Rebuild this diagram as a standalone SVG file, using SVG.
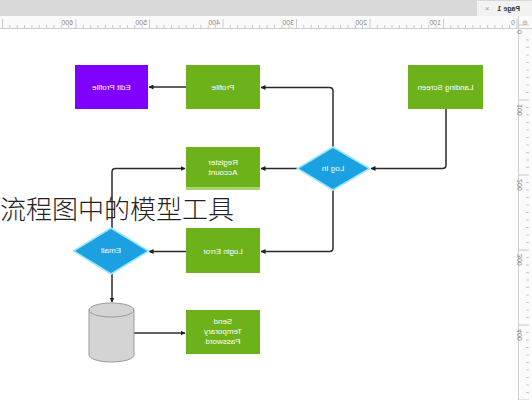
<svg xmlns="http://www.w3.org/2000/svg" width="532" height="400" viewBox="0 0 532 400">
<defs>
<style>
.lbl{font-family:"Liberation Sans",Arial,sans-serif;font-size:8px;fill:#ffffff;text-anchor:middle}
.rul{font-family:"Liberation Sans",Arial,sans-serif;font-size:7px;fill:#888;text-anchor:end}
.green{fill:#6db21a}
.edge{fill:none;stroke:#2b2b2b;stroke-width:1.5;marker-end:url(#ah)}
.tick{stroke:#bdbdbd;stroke-width:0.8}
</style>
<marker id="ah" viewBox="0 0 10 10" refX="9" refY="5" markerWidth="5" markerHeight="5" orient="auto" markerUnits="userSpaceOnUse">
<path d="M0,0 L10,5 L0,10 z" fill="#1f1f1f"/>
</marker>
</defs>
<rect width="532" height="400" fill="#ffffff"/>
<!-- top chrome -->
<g id="chrome">
<rect x="0" y="0" width="532" height="16" fill="#d9d9d9"/>
<rect x="477" y="1" width="55" height="15" fill="#f2f2f2"/>
<text transform="translate(520,11) scale(-1,1)" style="font-family:'Liberation Sans',Arial,sans-serif;font-size:7px;font-weight:bold;fill:#333">Page 1</text>
<text x="487" y="11" style="font-family:'Liberation Sans',Arial,sans-serif;font-size:8px;fill:#999" text-anchor="middle">×</text>
<rect x="0" y="16" width="532" height="13" fill="#fbfbfb"/>
<line x1="0" y1="28.5" x2="532" y2="28.5" stroke="#cfcfcf"/>
<rect x="518" y="29" width="14" height="371" fill="#fbfbfb"/>
<line x1="518.5" y1="29" x2="518.5" y2="400" stroke="#cfcfcf"/>
<line x1="518.5" y1="16" x2="518.5" y2="29" stroke="#cfcfcf"/>
<text x="525" y="25" style="font-family:'Liberation Sans',Arial,sans-serif;font-size:7px;fill:#aaa" text-anchor="middle">⊕</text>
<g class="tick">
<path d="M517,19V28 M443.5,19V28 M370,19V28 M296.5,19V28 M223,19V28 M149.5,19V28 M76,19V28 M2.5,19V28"/>
<path d="M509.6,25V28 M502.3,25V28 M494.9,25V28 M487.6,25V28 M480.2,25V28 M472.9,25V28 M465.5,25V28 M458.2,25V28 M450.8,25V28
M436.1,25V28 M428.8,25V28 M421.4,25V28 M414.1,25V28 M406.7,25V28 M399.4,25V28 M392,25V28 M384.7,25V28 M377.3,25V28
M362.6,25V28 M355.3,25V28 M347.9,25V28 M340.6,25V28 M333.2,25V28 M325.9,25V28 M318.5,25V28 M311.2,25V28 M303.8,25V28
M289.1,25V28 M281.8,25V28 M274.4,25V28 M267.1,25V28 M259.7,25V28 M252.4,25V28 M245,25V28 M237.7,25V28 M230.3,25V28
M215.6,25V28 M208.3,25V28 M200.9,25V28 M193.6,25V28 M186.2,25V28 M178.9,25V28 M171.5,25V28 M164.2,25V28 M156.8,25V28
M142.1,25V28 M134.8,25V28 M127.4,25V28 M120.1,25V28 M112.7,25V28 M105.4,25V28 M98,25V28 M90.7,25V28 M83.3,25V28
M68.6,25V28 M61.3,25V28 M53.9,25V28 M46.6,25V28 M39.2,25V28 M31.9,25V28 M24.5,25V28 M17.2,25V28 M9.8,25V28"/>
<path d="M519,25H529 M519,100H529 M519,175H529 M519,250H529 M519,325H529 M519,400H529"/>
<path d="M526,40H529 M526,47.5H529 M526,55H529 M526,62.5H529 M526,70H529 M526,77.5H529 M526,85H529 M526,92.5H529
M526,107.5H529 M526,115H529 M526,122.5H529 M526,130H529 M526,137.5H529 M526,145H529 M526,152.5H529 M526,160H529 M526,167.5H529
M526,182.5H529 M526,190H529 M526,197.5H529 M526,205H529 M526,212.5H529 M526,220H529 M526,227.5H529 M526,235H529 M526,242.5H529
M526,257.5H529 M526,265H529 M526,272.5H529 M526,280H529 M526,287.5H529 M526,295H529 M526,302.5H529 M526,310H529 M526,317.5H529
M526,332.5H529 M526,340H529 M526,347.5H529 M526,355H529 M526,362.5H529 M526,370H529 M526,377.5H529 M526,385H529 M526,392.5H529"/>
</g>
<text class="rul" transform="translate(515,25) scale(-1,1)" style="text-anchor:start">0</text>
<text class="rul" transform="translate(441,25) scale(-1,1)" style="text-anchor:start">100</text>
<text class="rul" transform="translate(367,25) scale(-1,1)" style="text-anchor:start">200</text>
<text class="rul" transform="translate(294,25) scale(-1,1)" style="text-anchor:start">300</text>
<text class="rul" transform="translate(220,25) scale(-1,1)" style="text-anchor:start">400</text>
<text class="rul" transform="translate(147,25) scale(-1,1)" style="text-anchor:start">500</text>
<text class="rul" transform="translate(73,25) scale(-1,1)" style="text-anchor:start">600</text>
<text class="rul" transform="translate(522,30) rotate(90) scale(1,-1)" style="text-anchor:start">0</text>
<text class="rul" transform="translate(522,104) rotate(90) scale(1,-1)" style="text-anchor:start">100</text>
<text class="rul" transform="translate(522,179) rotate(90) scale(1,-1)" style="text-anchor:start">200</text>
<text class="rul" transform="translate(522,254) rotate(90) scale(1,-1)" style="text-anchor:start">300</text>
<text class="rul" transform="translate(522,329) rotate(90) scale(1,-1)" style="text-anchor:start">400</text>
</g>
<!-- connectors -->
<g id="connectors">
<path class="edge" d="M186,87 H149"/>
<path class="edge" d="M446,109 V165 Q446,168.5 442.5,168.5 H371"/>
<path class="edge" d="M333,147 V91 Q333,87.5 329.5,87.5 H261"/>
<path class="edge" d="M297,168.5 H261"/>
<path class="edge" d="M333,190 V248 Q333,251.5 329.5,251.5 H261"/>
<path class="edge" d="M186,251.5 H149"/>
<path class="edge" d="M112,228 V172 Q112,168.5 115.5,168.5 H185"/>
<path class="edge" d="M112,274 V302"/>
<path class="edge" d="M134,333 H185"/>
</g>
<!-- nodes -->
<g id="edit-profile">
<rect x="75" y="65" width="73" height="44" fill="#7f00ff"/>
<text class="lbl" transform="translate(111.5,90) scale(-1,1)">Edit Profile</text>
</g>
<g id="profile">
<rect class="green" x="186" y="65" width="74" height="44"/>
<text class="lbl" transform="translate(223,90) scale(-1,1)">Profile</text>
</g>
<g id="landing-screen">
<rect class="green" x="408" y="65" width="75" height="44"/>
<text class="lbl" transform="translate(445.5,90) scale(-1,1)">Landing Screen</text>
</g>
<g id="log-in">
<polygon points="333,146 371,168.5 333,191 296,168.5" fill="#9be6ff"/>
<polygon points="333,148 368,168.5 333,189 299,168.5" fill="#1ba1e2"/>
<text class="lbl" transform="translate(333,171) scale(-1,1)">Log In</text>
</g>
<g id="register-account">
<rect x="186" y="147" width="74" height="43" fill="#a9d46c"/>
<rect class="green" x="186" y="147" width="74" height="40"/>
<text class="lbl" transform="translate(223,165) scale(-1,1)">Register</text>
<text class="lbl" transform="translate(223,175) scale(-1,1)">Account</text>
</g>
<g id="login-error">
<rect class="green" x="186" y="228" width="74" height="45"/>
<text class="lbl" transform="translate(223,254) scale(-1,1)">Login Error</text>
</g>
<g id="email">
<polygon points="111,227 150,251 111,275 72,251" fill="#9be6ff"/>
<polygon points="111,229 147,251 111,273 75,251" fill="#1ba1e2"/>
<text class="lbl" transform="translate(111,253) scale(-1,1)">Email</text>
</g>
<g id="database">
<path d="M89,310 V355 A22.5,7 0 0 0 134,355 V310 A22.5,7 0 0 0 89,310 Z" fill="#d4d4d4" stroke="#9a9a9a" stroke-width="1"/>
<path d="M89,310 A22.5,7 0 0 0 134,310" fill="none" stroke="#9a9a9a" stroke-width="1"/>
</g>
<g id="send-temporary-password">
<rect class="green" x="186" y="310" width="74" height="44"/>
<text class="lbl" transform="translate(223,324) scale(-1,1)">Send</text>
<text class="lbl" transform="translate(223,334) scale(-1,1)">Temporary</text>
<text class="lbl" transform="translate(223,344) scale(-1,1)">Password</text>
</g>
<!-- overlay caption -->
<text x="0" y="219" style="font-family:'Noto Sans CJK SC','Noto Sans',sans-serif;font-size:26px;font-weight:300;fill:#222">流程图中的模型工具</text>
</svg>
